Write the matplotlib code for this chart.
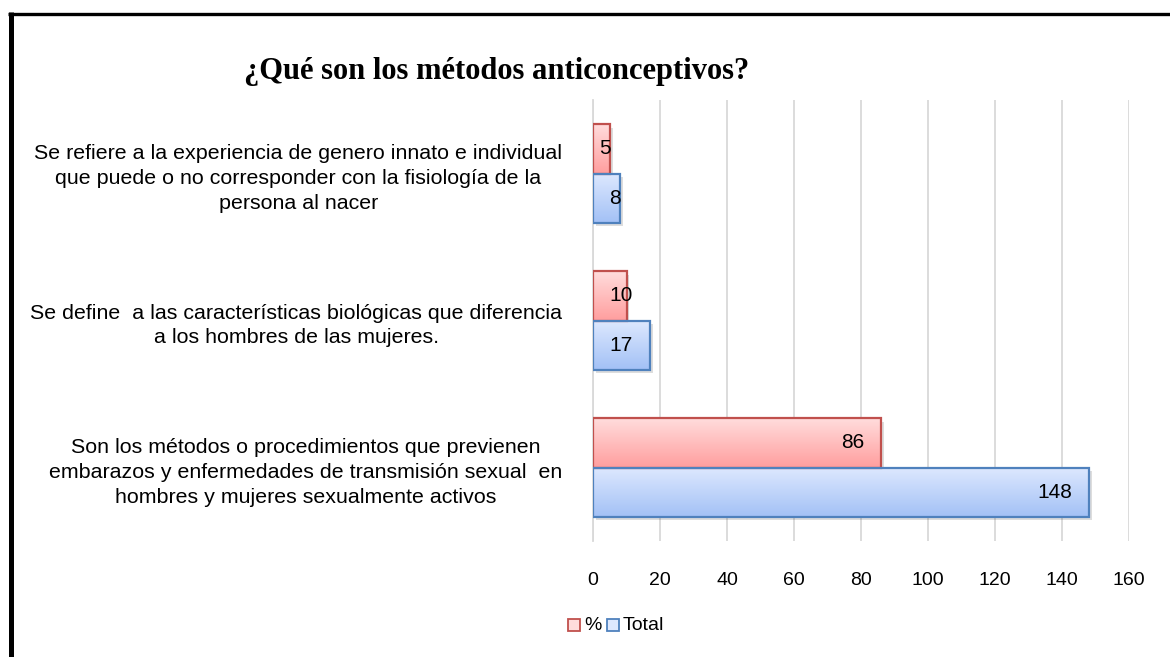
import matplotlib
matplotlib.use("Agg")
import matplotlib.pyplot as plt
import numpy as np
from matplotlib.lines import Line2D
from matplotlib.patches import Rectangle
import matplotlib.patheffects as pe
from matplotlib.colors import LinearSegmentedColormap

# ---- data ----
title = "¿Qué son los métodos anticonceptivos?"
categories = [
    "Se refiere a la experiencia de genero innato e individual\nque puede o no corresponder con la fisiología de la\npersona al nacer",
    "Se define  a las características biológicas que diferencia\na los hombres de las mujeres.",
    "Son los métodos o procedimientos que previenen\nembarazos y enfermedades de transmisión sexual  en\nhombres y mujeres sexualmente activos",
]
pct_values = [5, 10, 86]
total_values = [8, 17, 148]
series_names = ["%", "Total"]
xticks = [0, 20, 40, 60, 80, 100, 120, 140, 160]

# ---- style ----
W, H, DPI = 1170, 657, 100
FONT = "Liberation Sans"
red_edge = "#C0504D"
blue_edge = "#4F81BD"
red_grad = ["#FFDCDC", "#FF9E9E"]
blue_grad = ["#DDE8FE", "#A3C1F6"]

fig = plt.figure(figsize=(W / DPI, H / DPI), dpi=DPI)
fig.patch.set_facecolor("white")

ax_left, ax_right = 593 / W, 1129 / W
ax_top, ax_bot = 1 - 100 / H, 1 - 541 / H
ax = fig.add_axes([ax_left, ax_bot, ax_right - ax_left, ax_top - ax_bot])

y = np.arange(len(categories))
h = 0.335

bars_pct = ax.barh(y - h / 2, pct_values, height=h, facecolor="none",
                   edgecolor=red_edge, linewidth=1.6, zorder=4)
bars_tot = ax.barh(y + h / 2, total_values, height=h, facecolor="none",
                   edgecolor=blue_edge, linewidth=1.6, zorder=4)


def fill_gradient(bars, cols):
    cmap = LinearSegmentedColormap.from_list("g", cols)
    grad = np.linspace(0, 1, 64).reshape(-1, 1)
    for b in bars:
        x0, yb = b.get_x(), b.get_y()
        w, hh = b.get_width(), b.get_height()
        shadow = Rectangle((x0, yb), w, hh, facecolor="white", edgecolor="none",
                           zorder=2)
        ax.add_patch(shadow)
        shadow.set_path_effects([pe.SimplePatchShadow(offset=(2, -2.5), alpha=0.18,
                                                      shadow_rgbFace="#444444")])
        clip = Rectangle((x0, yb), w, hh, transform=ax.transData)
        im = ax.imshow(grad, cmap=cmap, aspect="auto", origin="upper",
                       extent=[x0, x0 + w, yb + hh, yb], zorder=3,
                       interpolation="bilinear")
        im.set_clip_path(clip)


fill_gradient(bars_pct, red_grad)
fill_gradient(bars_tot, blue_grad)

ax.set_xlim(0, 160)
ax.set_ylim(len(categories) - 0.5, -0.5)
ax.set_xticks(xticks)
ax.set_xticklabels([str(t) for t in xticks], fontsize=14, family=FONT)
ax.set_yticks(y)
ax.set_yticklabels(categories, fontsize=15.4, family=FONT, ha="right",
                   multialignment="center", linespacing=1.38)
ax.tick_params(axis="both", length=0, colors="black")
ax.tick_params(axis="y", pad=22)
ax.tick_params(axis="x", pad=22)
ax.grid(axis="x", color="#D9D9D9", linewidth=1.3, zorder=0)
ax.set_axisbelow(True)
for s in ["top", "right", "bottom"]:
    ax.spines[s].set_visible(False)
ax.spines["left"].set_color("#D9D9D9")
ax.spines["left"].set_linewidth(1.3)

px_per_unit = (1129 - 593) / 160.0


def label(bars, vals):
    for b, v in zip(bars, vals):
        yc = b.get_y() + b.get_height() / 2
        if v * px_per_unit > 80:
            ax.annotate(str(v), (v, yc), xytext=(-17 * 0.72, 0), textcoords="offset points",
                        ha="right", va="center", fontsize=15, family=FONT, zorder=6)
        else:
            xc = min(v - 1.5, 8.3)
            ax.text(xc, yc, str(v), ha="center", va="center", fontsize=15,
                    family=FONT, zorder=6)


label(bars_pct, pct_values)
label(bars_tot, total_values)

fig.text(497 / W, 1 - 72 / H, title, ha="center", va="center", fontsize=22,
         family="Liberation Serif", fontweight="bold")

# legend
sq = 12
for i, (name, ec, cols) in enumerate([(series_names[0], red_edge, red_grad),
                                      (series_names[1], blue_edge, blue_grad)]):
    x_px = 568 if i == 0 else 607
    r = Rectangle((x_px / W, 1 - (625 + 6) / H), sq / W, sq / H,
                  transform=fig.transFigure, facecolor=cols[0], edgecolor=ec,
                  linewidth=1.3)
    fig.add_artist(r)
    fig.text((x_px + 16) / W, 1 - 625 / H, name, ha="left", va="center",
             fontsize=14, family=FONT)

# figure border (left and top)
fig.add_artist(Line2D([10.5 / W, 10.5 / W], [0, 1 - 12 / H], transform=fig.transFigure,
                      color="black", linewidth=3.6, solid_capstyle="butt"))
fig.add_artist(Line2D([8 / W, 1], [1 - 13.5 / H, 1 - 13.5 / H], transform=fig.transFigure,
                      color="black", linewidth=2.4, solid_capstyle="butt"))

fig.savefig("out.png", dpi=DPI, facecolor="white")
